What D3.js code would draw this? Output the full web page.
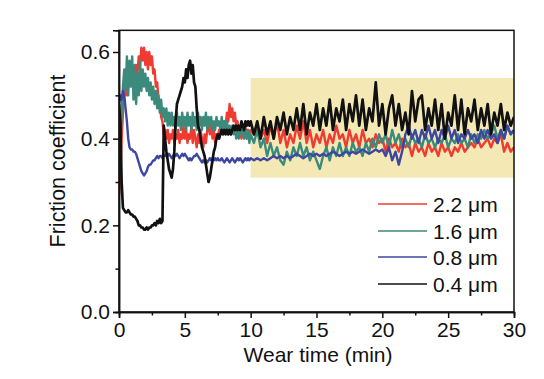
<!DOCTYPE html>
<html>
<head>
<meta charset="utf-8">
<script src="https://cdn.jsdelivr.net/npm/d3@7"></script>
<style>
  html, body { margin: 0; padding: 0; background: #fff; }
  svg { display: block; }
  text { font-family: "Liberation Sans", Arial, sans-serif; fill: #111; }
</style>
</head>
<body>
<svg id="chart" width="544" height="379"></svg>
<script>
// ---------------- DATA ----------------
// sample times (min): 0..10 every 0.1, then 10.25..30 every 0.25
const time = d3.range(0, 101).map(i => i / 10).concat(d3.range(1, 81).map(i => 10 + i / 4));

const seriesNames = ["2.2 \u03bcm", "1.6 \u03bcm", "0.8 \u03bcm", "0.4 \u03bcm"];

const red22 = [
  0.27,0.30,0.40,0.46,0.50,0.52,0.50,0.54,0.52,0.55,
  0.53,0.56,0.54,0.57,0.55,0.59,0.57,0.61,0.58,0.61,
  0.57,0.60,0.56,0.60,0.57,0.59,0.55,0.56,0.52,0.53,
  0.49,0.48,0.45,0.44,0.41,0.42,0.40,0.42,0.39,0.41,
  0.40,0.42,0.39,0.41,0.40,0.42,0.39,0.41,0.40,0.43,
  0.40,0.42,0.39,0.41,0.40,0.43,0.39,0.42,0.40,0.38,
  0.41,0.39,0.42,0.40,0.38,0.41,0.39,0.42,0.43,0.41,
  0.44,0.40,0.42,0.39,0.41,0.40,0.42,0.41,0.43,0.42,
  0.44,0.43,0.46,0.44,0.48,0.45,0.47,0.44,0.46,0.43,
  0.44,0.41,0.42,0.40,0.42,0.41,0.43,0.40,0.42,0.41,
  0.42,
  0.41,0.43,0.40,0.42,0.39,0.43,0.40,0.44,0.39,0.42,
  0.38,0.41,0.39,0.43,0.40,0.44,0.39,0.42,0.38,0.41,
  0.39,0.42,0.38,0.41,0.39,0.43,0.40,0.41,0.38,0.42,
  0.39,0.41,0.38,0.42,0.39,0.40,0.38,0.41,0.39,0.40,
  0.37,0.40,0.38,0.39,0.37,0.40,0.38,0.39,0.36,0.39,
  0.37,0.38,0.36,0.39,0.37,0.38,0.36,0.39,0.37,0.38,
  0.36,0.38,0.37,0.39,0.37,0.38,0.39,0.38,0.40,0.38,
  0.39,0.40,0.38,0.40,0.39,0.41,0.37,0.39,0.37,0.38
];

const teal16 = [
  0.31,0.38,0.46,0.52,0.56,0.51,0.59,0.50,0.58,0.52,
  0.59,0.49,0.57,0.48,0.55,0.50,0.58,0.51,0.56,0.52,
  0.55,0.51,0.54,0.50,0.53,0.49,0.52,0.48,0.51,0.47,
  0.50,0.46,0.49,0.45,0.47,0.44,0.47,0.43,0.46,0.43,
  0.46,0.43,0.45,0.42,0.46,0.43,0.45,0.42,0.46,0.43,
  0.45,0.42,0.46,0.43,0.45,0.42,0.46,0.43,0.45,0.42,
  0.46,0.43,0.45,0.42,0.45,0.43,0.46,0.42,0.45,0.43,
  0.45,0.42,0.44,0.42,0.45,0.43,0.44,0.42,0.45,0.42,
  0.44,0.42,0.44,0.41,0.43,0.41,0.43,0.41,0.43,0.40,
  0.42,0.40,0.43,0.41,0.42,0.40,0.42,0.40,0.42,0.39,
  0.41,
  0.39,0.42,0.38,0.40,0.36,0.39,0.36,0.38,0.35,0.34,
  0.37,0.35,0.38,0.36,0.39,0.36,0.38,0.35,0.37,0.35,
  0.33,0.36,0.38,0.35,0.38,0.36,0.39,0.36,0.38,0.36,
  0.39,0.37,0.38,0.36,0.39,0.37,0.40,0.38,0.41,0.39,
  0.41,0.38,0.42,0.39,0.41,0.38,0.40,0.38,0.41,0.39,
  0.40,0.38,0.41,0.39,0.40,0.38,0.40,0.39,0.41,0.38,
  0.40,0.39,0.41,0.39,0.40,0.38,0.41,0.39,0.41,0.40,
  0.42,0.40,0.41,0.43,0.40,0.42,0.40,0.43,0.41,0.42
];

const blue08 = [
  0.48,0.50,0.49,0.51,0.50,0.47,0.44,0.40,0.38,0.375,
  0.375,0.37,0.37,0.365,0.355,0.345,0.335,0.325,0.32,0.315,
  0.32,0.325,0.335,0.34,0.34,0.345,0.35,0.35,0.355,0.36,
  0.355,0.36,0.36,0.355,0.36,0.36,0.365,0.36,0.365,0.36,
  0.355,0.36,0.365,0.36,0.365,0.36,0.355,0.36,0.365,0.36,
  0.365,0.36,0.355,0.35,0.355,0.35,0.355,0.36,0.36,0.365,
  0.36,0.355,0.35,0.345,0.35,0.345,0.35,0.345,0.35,0.355,
  0.35,0.355,0.35,0.355,0.35,0.355,0.35,0.35,0.355,0.35,
  0.345,0.35,0.355,0.35,0.345,0.35,0.355,0.35,0.345,0.35,
  0.355,0.35,0.355,0.35,0.345,0.35,0.355,0.35,0.355,0.35,
  0.355,
  0.35,0.355,0.35,0.355,0.35,0.355,0.36,0.355,0.36,0.355,
  0.36,0.355,0.36,0.365,0.36,0.355,0.36,0.365,0.36,0.365,
  0.36,0.365,0.36,0.365,0.37,0.365,0.36,0.365,0.37,0.365,
  0.37,0.365,0.37,0.375,0.37,0.365,0.37,0.375,0.37,0.375,
  0.36,0.38,0.35,0.37,0.34,0.37,0.41,0.43,0.40,0.42,
  0.39,0.42,0.40,0.43,0.40,0.42,0.39,0.42,0.40,0.43,
  0.40,0.42,0.39,0.41,0.40,0.42,0.40,0.41,0.39,0.42,
  0.40,0.42,0.40,0.41,0.39,0.42,0.40,0.43,0.41,0.42
];

const black04 = [
  0.48,0.44,0.30,0.24,0.235,0.23,0.23,0.235,0.23,0.225,
  0.225,0.22,0.22,0.215,0.21,0.20,0.20,0.195,0.195,0.19,
  0.19,0.195,0.19,0.195,0.195,0.20,0.20,0.205,0.20,0.21,
  0.205,0.215,0.205,0.21,0.43,0.40,0.37,0.35,0.33,0.32,
  0.31,0.33,0.37,0.44,0.48,0.49,0.50,0.51,0.52,0.54,
  0.53,0.56,0.54,0.57,0.58,0.55,0.57,0.53,0.52,0.47,
  0.43,0.42,0.40,0.38,0.37,0.36,0.34,0.32,0.30,0.31,
  0.33,0.35,0.37,0.38,0.40,0.41,0.40,0.41,0.42,0.41,
  0.42,0.41,0.42,0.41,0.42,0.41,0.42,0.43,0.42,0.43,
  0.42,0.43,0.42,0.44,0.43,0.42,0.44,0.43,0.44,0.43,
  0.44,
  0.41,0.44,0.40,0.45,0.41,0.44,0.40,0.45,0.42,0.46,
  0.41,0.45,0.42,0.47,0.42,0.48,0.41,0.46,0.43,0.48,
  0.42,0.47,0.43,0.49,0.42,0.47,0.44,0.49,0.42,0.48,
  0.44,0.50,0.43,0.49,0.42,0.47,0.44,0.53,0.43,0.48,
  0.41,0.47,0.50,0.43,0.48,0.42,0.46,0.41,0.51,0.44,
  0.49,0.50,0.42,0.47,0.43,0.49,0.42,0.48,0.40,0.46,
  0.43,0.50,0.42,0.49,0.41,0.47,0.44,0.49,0.42,0.47,
  0.43,0.48,0.41,0.46,0.43,0.48,0.42,0.46,0.43,0.45
];

const xTicks = [0, 5, 10, 15, 20, 25, 30];
const xMinorTicks = [2.5, 7.5, 12.5, 17.5, 22.5, 27.5];
const yTicks = [0.0, 0.2, 0.4, 0.6];
const yMinorTicks = [0.1, 0.3, 0.5];
const highlightX = [10, 30];
const highlightY = [0.31, 0.54];

// ---------------- DRAW ----------------
const colors = ["#ef3b32", "#3b8a7c", "#3d47a0", "#111111"];
const widths = [2.4, 2.4, 2.4, 2.7];
const seriesData = [red22, teal16, blue08, black04];

const svg = d3.select("#chart");
const x = d3.scaleLinear().domain([0, 30]).range([119, 514]);
const y = d3.scaleLinear().domain([0, 0.65]).range([312, 312 - 0.65 * 433.33]);

// highlight band
svg.append("rect")
  .attr("x", x(highlightX[0])).attr("y", y(highlightY[1]))
  .attr("width", x(highlightX[1]) - x(highlightX[0]))
  .attr("height", y(highlightY[0]) - y(highlightY[1]))
  .attr("fill", "#f4e9b5");

const clipId = "plotclip";
svg.append("clipPath").attr("id", clipId).append("rect")
  .attr("x", x(0)).attr("y", y(0.65)).attr("width", x(30) - x(0)).attr("height", y(0) - y(0.65));

const line = d3.line().x((d, i) => x(time[i])).y(d => y(d));
const g = svg.append("g").attr("clip-path", `url(#${clipId})`);
seriesData.forEach((s, k) => {
  g.append("path").datum(s).attr("d", line)
    .attr("fill", "none").attr("stroke", colors[k]).attr("stroke-width", widths[k])
    .attr("stroke-linejoin", "round");
});

// frame
svg.append("rect")
  .attr("x", x(0)).attr("y", y(0.65)).attr("width", x(30) - x(0)).attr("height", y(0) - y(0.65))
  .attr("fill", "none").attr("stroke", "#111").attr("stroke-width", 1.5);

// axes
const fs = "21px";
const xAxis = svg.append("g").attr("transform", `translate(0,${y(0)})`)
  .call(d3.axisBottom(x).tickValues(xTicks).tickFormat(d3.format("d")).tickSize(6).tickPadding(4));
const xMinor = svg.append("g").attr("transform", `translate(0,${y(0)})`)
  .call(d3.axisBottom(x).tickValues(xMinorTicks).tickFormat("").tickSize(3.5));
const yAxis = svg.append("g").attr("transform", `translate(${x(0)},0)`)
  .call(d3.axisLeft(y).tickValues(yTicks).tickFormat(d3.format(".1f")).tickSize(6).tickPadding(3));
const yMinor = svg.append("g").attr("transform", `translate(${x(0)},0)`)
  .call(d3.axisLeft(y).tickValues(yMinorTicks).tickFormat("").tickSize(3.5));

[xAxis, xMinor, yAxis, yMinor].forEach(a => {
  a.select(".domain").attr("stroke", "#111").attr("stroke-width", 1.5);
  a.selectAll(".tick line").attr("stroke", "#111").attr("stroke-width", 1.5);
  a.selectAll(".tick text").attr("font-size", fs)
    .attr("font-family", "'Liberation Sans', Arial, sans-serif").attr("fill", "#111");
});

// titles
svg.append("text").attr("x", 318).attr("y", 362).attr("text-anchor", "middle")
  .attr("font-size", "21px").text("Wear time (min)");
svg.append("text").attr("transform", "translate(65,161) rotate(-90)").attr("text-anchor", "middle")
  .attr("font-size", "21.5px").text("Friction coefficient");

// legend
const legY = [204, 231, 257, 284];
seriesNames.forEach((name, k) => {
  svg.append("line").attr("x1", 378).attr("x2", 427).attr("y1", legY[k]).attr("y2", legY[k])
    .attr("stroke", colors[k]).attr("stroke-width", 1.6);
  svg.append("text").attr("x", 433).attr("y", legY[k] + 7.5).attr("font-size", "21px").text(name);
});
</script>
</body>
</html>
